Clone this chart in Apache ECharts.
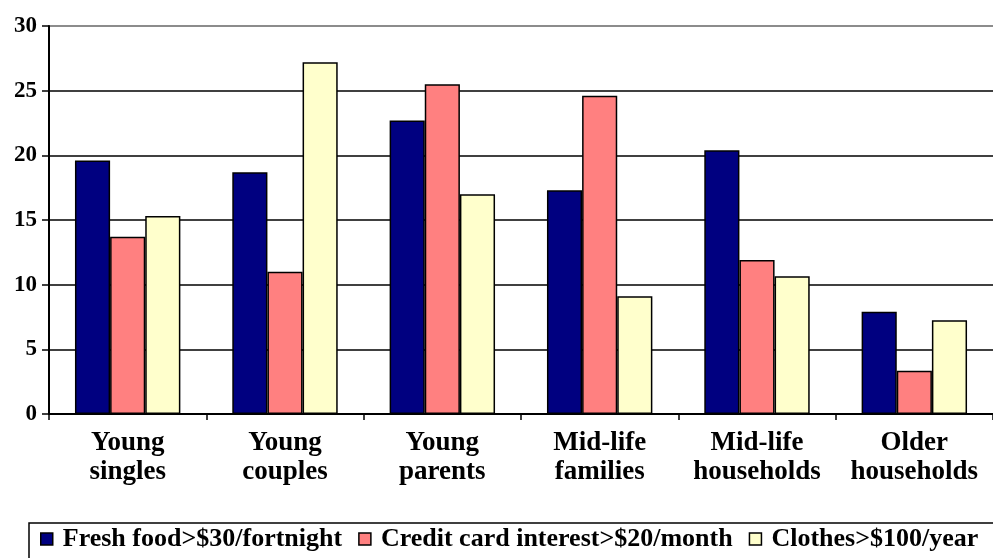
<!DOCTYPE html>
<html>
<head>
<meta charset="utf-8">
<script src="https://cdn.jsdelivr.net/npm/echarts@6/dist/echarts.min.js"></script>
<style>
html,body{margin:0;padding:0;background:#fff;}
#chart{width:993px;height:558px;}
</style>
</head>
<body>
<div id="chart"></div>
<script>
const categories = ['Young singles', 'Young couples', 'Young parents', 'Mid-life families', 'Mid-life households', 'Older households'];
const seriesNames = ['Fresh food>$30/fortnight', 'Credit card interest>$20/month', 'Clothes>$100/year'];
const freshFood = [19.6, 18.7, 22.7, 17.3, 20.4, 7.9];
const creditCard = [13.7, 11.0, 25.5, 24.6, 11.9, 3.35];
const clothes = [15.3, 27.2, 17.0, 9.1, 10.65, 7.25];
const yTicks = { min: 0, max: 30, interval: 5 };
const colors = ['#000080', '#FF8080', '#FFFFCC'];

const font = "'Liberation Serif', 'Times New Roman', serif";
const chart = echarts.init(document.getElementById('chart'));

function mkSeries(name, data, color) {
  return {
    name: name,
    type: 'bar',
    data: data,
    barGap: '0%',
    barCategoryGap: '33%',
    itemStyle: { color: color, borderColor: '#000', borderWidth: 1.5 },
    emphasis: { disabled: true },
    animation: false
  };
}

chart.setOption({
  animation: false,
  backgroundColor: '#fff',
  grid: { left: 49, right: -4, top: 26, bottom: 144, containLabel: false },
  legend: {
    left: 29,
    top: 523,
    width: 1200,
    padding: [3, 40, 40, 11],
    borderColor: '#000',
    borderWidth: 1.5,
    itemWidth: 12,
    itemHeight: 12,
    itemGap: 16,
    icon: 'rect',
    itemStyle: { borderColor: '#000', borderWidth: 1.5 },
    textStyle: { fontFamily: font, fontWeight: 'bold', fontSize: 26, color: '#000', padding: [16, 0, 0, 5] },
    data: seriesNames
  },
  xAxis: {
    type: 'category',
    data: categories,
    axisLine: { lineStyle: { color: '#000', width: 2 } },
    axisTick: { show: true, length: 6, lineStyle: { color: '#000', width: 1.5 } },
    axisLabel: {
      interval: 0,
      margin: 15,
      fontFamily: font,
      fontWeight: 'bold',
      fontSize: 27,
      lineHeight: 29,
      color: '#000',
      formatter: v => v.replace(' ', '\n')
    },
    splitLine: { show: false }
  },
  yAxis: {
    type: 'value',
    min: yTicks.min,
    max: yTicks.max,
    interval: yTicks.interval,
    axisLine: { show: true, lineStyle: { color: '#000', width: 2 } },
    axisTick: { show: true, length: 7, lineStyle: { color: '#000', width: 1.5 } },
    axisLabel: { margin: 12, fontFamily: font, fontWeight: 'bold', fontSize: 23, color: '#000' },
    splitLine: { show: true, lineStyle: { color: ['#000', '#000', '#000', '#000', '#000', '#000', '#666'], width: 1.5 } }
  },
  series: [
    mkSeries(seriesNames[0], freshFood, colors[0]),
    mkSeries(seriesNames[1], creditCard, colors[1]),
    mkSeries(seriesNames[2], clothes, colors[2])
  ]
});
</script>
</body>
</html>
